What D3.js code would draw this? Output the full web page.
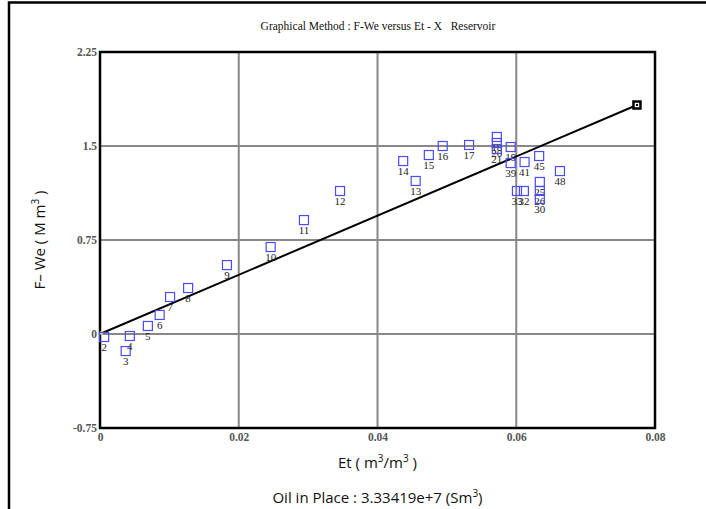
<!DOCTYPE html>
<html>
<head>
<meta charset="utf-8">
<script src="https://cdn.jsdelivr.net/npm/d3@7"></script>
<style>
  body { margin: 0; background: #fff; }
  svg { display: block; }
</style>
</head>
<body>
<svg id="chart" width="706" height="509"></svg>
<script>
// point labels, Et (m3/m3) and F-We (M m3)
let pointIds = ['2', '3', '4', '5', '6', '7', '8', '9', '10', '11', '12', '13', '14', '15', '16', '17',
                '18', '20', '21', '19', '39', '41', '45', '48', '33', '32', '25', '26', '30'];
let etValues = [0.0006, 0.0037, 0.0043, 0.0069, 0.0086, 0.0101, 0.0127, 0.0183, 0.0246, 0.0294, 0.0346,
                0.0455, 0.0437, 0.0474, 0.0494, 0.0532,
                0.0572, 0.0572, 0.0572, 0.0592, 0.0592, 0.0612, 0.0633, 0.0663, 0.0601, 0.0611, 0.0634, 0.0634, 0.0634];
let fweValues = [-0.024, -0.136, -0.016, 0.064, 0.152, 0.295, 0.367, 0.550, 0.694, 0.909, 1.141,
                 1.221, 1.380, 1.428, 1.500, 1.508,
                 1.572, 1.524, 1.476, 1.492, 1.364, 1.372, 1.420, 1.300, 1.141, 1.141, 1.213, 1.141, 1.077];

// fitted straight line through origin
let lineEt = [0, 0.0774];
let lineFwe = [0, 1.827];

let xTicks = [0, 0.02, 0.04, 0.06, 0.08];
let yTicks = [-0.75, 0, 0.75, 1.5, 2.25];

let svg = d3.select('#chart');
let margin = {left: 100, right: 51, top: 52, bottom: 81};
let width = 706 - margin.left - margin.right;
let height = 509 - margin.top - margin.bottom;

let xScale = d3.scaleLinear().domain([0, 0.08]).range([margin.left, margin.left + width]);
let yScale = d3.scaleLinear().domain([-0.75, 2.25]).range([margin.top + height, margin.top]);

//outer frame
svg.append('path')
   .attr('d', 'M9,520 L9,2.5 L720,2.5')
   .attr('fill', 'none')
   .attr('stroke', '#000')
   .attr('stroke-width', 2.5);

//title
svg.append('text')
   .attr('x', 378).attr('y', 30)
   .attr('text-anchor', 'middle')
   .style('font-family', '"Liberation Serif", "Times New Roman", serif')
   .style('font-size', '11.5px')
   .attr('fill', '#111')
   .text('Graphical Method : F-We versus Et - X\u00a0\u00a0\u00a0Reservoir');

//grid
svg.append('g').selectAll('line')
   .data(xTicks.slice(1, -1))
   .enter().append('line')
   .attr('x1', d => xScale(d)).attr('x2', d => xScale(d))
   .attr('y1', margin.top).attr('y2', margin.top + height)
   .attr('stroke', '#888').attr('stroke-width', 2);
svg.append('g').selectAll('line')
   .data(yTicks.slice(1, -1))
   .enter().append('line')
   .attr('x1', margin.left).attr('x2', margin.left + width)
   .attr('y1', d => yScale(d)).attr('y2', d => yScale(d))
   .attr('stroke', '#888').attr('stroke-width', 2);

//plot frame
svg.append('rect')
   .attr('x', margin.left).attr('y', margin.top)
   .attr('width', width).attr('height', height)
   .attr('fill', 'none')
   .attr('stroke', '#000')
   .attr('stroke-width', 2.5);

//axes (labels only, frame is drawn above)
let tickFont = '"Liberation Serif", "Times New Roman", serif';
let xAxis = svg.append('g')
   .attr('transform', `translate(0, ${margin.top + height})`)
   .call(d3.axisBottom(xScale).tickValues(xTicks).tickSize(0).tickPadding(5).tickFormat(d => d === 0 ? '0' : d3.format('.2f')(d)));
let yAxis = svg.append('g')
   .attr('transform', `translate(${margin.left}, 0)`)
   .call(d3.axisLeft(yScale).tickValues(yTicks).tickSize(0).tickPadding(3).tickFormat(d => d === 0 ? '0' : String(d)));
[xAxis, yAxis].forEach(a => {
    a.select('.domain').remove();
    a.selectAll('text')
     .style('font-family', tickFont)
     .style('font-size', '11.5px')
     .style('font-weight', 'bold')
     .attr('fill', '#555');
});

//regression line
svg.append('line')
   .attr('x1', xScale(lineEt[0])).attr('y1', yScale(lineFwe[0]))
   .attr('x2', xScale(lineEt[1])).attr('y2', yScale(lineFwe[1]))
   .attr('stroke', '#000')
   .attr('stroke-width', 2);
svg.append('circle')
   .attr('cx', xScale(lineEt[0]) + 1.5).attr('cy', yScale(lineFwe[0]) - 1)
   .attr('r', 2)
   .attr('fill', '#e8e060');
svg.append('rect')
   .attr('x', xScale(lineEt[1]) - 3.5).attr('y', yScale(lineFwe[1]) - 3.5)
   .attr('width', 7).attr('height', 7)
   .attr('fill', '#fff')
   .attr('stroke', '#000')
   .attr('stroke-width', 2.5);
svg.append('rect')
   .attr('x', xScale(lineEt[1]) - 1).attr('y', yScale(lineFwe[1]) - 1)
   .attr('width', 2).attr('height', 2)
   .attr('fill', '#000');

//data points
let points = svg.append('g').selectAll('g')
   .data(pointIds.map((id, i) => ({id: id, x: etValues[i], y: fweValues[i]})))
   .enter().append('g')
   .attr('transform', d => `translate(${xScale(d.x)}, ${yScale(d.y)})`);
points.append('rect')
   .attr('x', -4.5).attr('y', -4.5)
   .attr('width', 9).attr('height', 9)
   .attr('fill', 'none')
   .attr('stroke', '#4a4aff')
   .attr('stroke-width', 1.2);
points.append('text')
   .attr('y', 14)
   .attr('text-anchor', 'middle')
   .style('font-family', tickFont)
   .style('font-size', '11px')
   .attr('fill', '#222')
   .text(d => d.id);

//axis titles
let sans = '"Open Sans", "Noto Sans", sans-serif';
let yTitle = svg.append('text')
   .attr('transform', `translate(45, ${margin.top + height / 2}) rotate(-90)`)
   .attr('text-anchor', 'middle')
   .style('font-family', sans)
   .style('font-size', '15px')
   .attr('fill', '#111');
yTitle.append('tspan').text('F\u2013 We ( M m');
yTitle.append('tspan').attr('dy', -6).style('font-size', '10px').text('3');
yTitle.append('tspan').attr('dy', 6).text(' )');

let xTitle = svg.append('text')
   .attr('x', xScale(0.04)).attr('y', 468)
   .attr('text-anchor', 'middle')
   .style('font-family', sans)
   .style('font-size', '15px')
   .attr('fill', '#111');
xTitle.append('tspan').text('Et ( m');
xTitle.append('tspan').attr('dy', -6).style('font-size', '10px').text('3');
xTitle.append('tspan').attr('dy', 6).text('/m');
xTitle.append('tspan').attr('dy', -6).style('font-size', '10px').text('3');
xTitle.append('tspan').attr('dy', 6).text(' )');

let oip = svg.append('text')
   .attr('x', xScale(0.04)).attr('y', 503)
   .attr('text-anchor', 'middle')
   .style('font-family', sans)
   .style('font-size', '15px')
   .attr('fill', '#111');
oip.append('tspan').text('Oil in Place : 3.33419e+7 (Sm');
oip.append('tspan').attr('dy', -6).style('font-size', '10px').text('3');
oip.append('tspan').attr('dy', 6).text(')');
</script>
</body>
</html>
